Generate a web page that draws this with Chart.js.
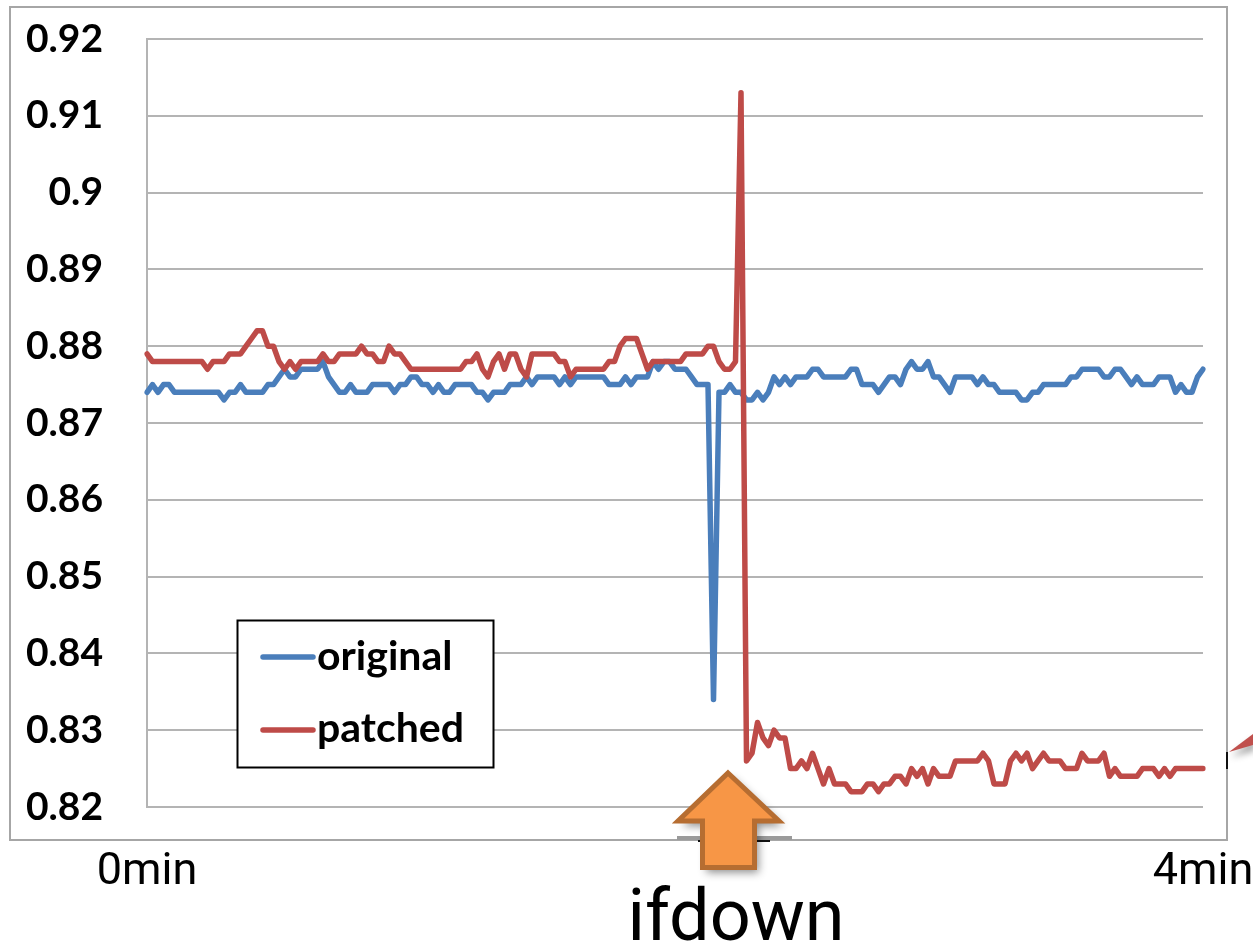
<!DOCTYPE html>
<html>
<head>
<meta charset="utf-8">
<script src="https://cdn.jsdelivr.net/npm/chart.js@4.4.1/dist/chart.umd.min.js"></script>
<style>
  html, body { margin: 0; padding: 0; background: #ffffff; }
  #wrap { width: 1253px; height: 946px; }
</style>
</head>
<body>
<div id="wrap"><canvas id="chart" width="1253" height="946"></canvas></div>
<script>
// Throughput ratio sampled over a 4-minute run, interface taken down mid-run.
const original = [
  0.874,0.875,0.874,0.875,0.875,0.874,0.874,0.874,0.874,0.874,
  0.874,0.874,0.874,0.874,0.873,0.874,0.874,0.875,0.874,0.874,
  0.874,0.874,0.875,0.875,0.876,0.877,0.876,0.876,0.877,0.877,
  0.877,0.877,0.878,0.876,0.875,0.874,0.874,0.875,0.874,0.874,
  0.874,0.875,0.875,0.875,0.875,0.874,0.875,0.875,0.876,0.876,
  0.875,0.875,0.874,0.875,0.874,0.874,0.875,0.875,0.875,0.875,
  0.874,0.874,0.873,0.874,0.874,0.874,0.875,0.875,0.875,0.876,
  0.875,0.876,0.876,0.876,0.876,0.875,0.876,0.875,0.876,0.876,
  0.876,0.876,0.876,0.876,0.875,0.875,0.875,0.876,0.875,0.876,
  0.876,0.876,0.878,0.877,0.878,0.878,0.877,0.877,0.877,0.876,
  0.875,0.875,0.875,0.834,0.874,0.874,0.875,0.874,0.874,0.873,
  0.873,0.874,0.873,0.874,0.876,0.875,0.876,0.875,0.876,0.876,
  0.876,0.877,0.877,0.876,0.876,0.876,0.876,0.876,0.877,0.877,
  0.875,0.875,0.875,0.874,0.875,0.876,0.876,0.875,0.877,0.878,
  0.877,0.877,0.878,0.876,0.876,0.875,0.874,0.876,0.876,0.876,
  0.876,0.875,0.876,0.875,0.875,0.874,0.874,0.874,0.874,0.873,
  0.873,0.874,0.874,0.875,0.875,0.875,0.875,0.875,0.876,0.876,
  0.877,0.877,0.877,0.877,0.876,0.876,0.877,0.877,0.876,0.875,
  0.876,0.875,0.875,0.875,0.876,0.876,0.876,0.874,0.875,0.874,
  0.874,0.876,0.877
];

const patched = [
  0.879,0.878,0.878,0.878,0.878,0.878,0.878,0.878,0.878,0.878,
  0.878,0.877,0.878,0.878,0.878,0.879,0.879,0.879,0.880,0.881,
  0.882,0.882,0.880,0.880,0.878,0.877,0.878,0.877,0.878,0.878,
  0.878,0.878,0.879,0.878,0.878,0.879,0.879,0.879,0.879,0.880,
  0.879,0.879,0.878,0.878,0.880,0.879,0.879,0.878,0.877,0.877,
  0.877,0.877,0.877,0.877,0.877,0.877,0.877,0.877,0.878,0.878,
  0.879,0.877,0.876,0.878,0.879,0.877,0.879,0.879,0.877,0.876,
  0.879,0.879,0.879,0.879,0.879,0.878,0.878,0.876,0.877,0.877,
  0.877,0.877,0.877,0.877,0.878,0.878,0.880,0.881,0.881,0.881,
  0.879,0.877,0.878,0.878,0.878,0.878,0.878,0.878,0.879,0.879,
  0.879,0.879,0.880,0.880,0.878,0.877,0.877,0.878,0.913,0.826,
  0.827,0.831,0.829,0.828,0.830,0.829,0.829,0.825,0.825,0.826,
  0.825,0.827,0.825,0.823,0.825,0.823,0.823,0.823,0.822,0.822,
  0.822,0.823,0.823,0.822,0.823,0.823,0.824,0.824,0.823,0.825,
  0.824,0.825,0.823,0.825,0.824,0.824,0.824,0.826,0.826,0.826,
  0.826,0.826,0.827,0.826,0.823,0.823,0.823,0.826,0.827,0.826,
  0.827,0.825,0.826,0.827,0.826,0.826,0.826,0.825,0.825,0.825,
  0.827,0.826,0.826,0.826,0.827,0.824,0.825,0.824,0.824,0.824,
  0.824,0.825,0.825,0.825,0.824,0.825,0.824,0.825,0.825,0.825,
  0.825,0.825,0.825
];

// Sample times in seconds (evenly spaced over 4 minutes).
const sampleTimes = original.map((_, i) => +(i * 240 / (original.length - 1)).toFixed(2));
const timeTickLabels = ['0min', '4min'];
const seriesNames = ['original', 'patched'];
const seriesColors = ['#4a7ebb', '#be4b48'];
const eventLabel = 'ifdown';

const GRID = '#b4b4b4';

// White page, outer chart frame.
const framePlugin = {
  id: 'frame',
  beforeDraw(chart) {
    const ctx = chart.ctx;
    ctx.save();
    ctx.fillStyle = '#ffffff';
    ctx.fillRect(0, 0, chart.width, chart.height);
    ctx.strokeStyle = '#a6a6a6';
    ctx.lineWidth = 2;
    ctx.strokeRect(10, 7, 1217, 833);
    ctx.restore();
  }
};

// Boxed legend inside the plot area.
const boxLegendPlugin = {
  id: 'boxLegend',
  afterDatasetsDraw(chart) {
    const ctx = chart.ctx;
    ctx.save();
    ctx.fillStyle = '#ffffff';
    ctx.fillRect(237, 620, 256, 147);
    ctx.strokeStyle = '#000000';
    ctx.lineWidth = 2;
    ctx.strokeRect(237.5, 620.5, 256, 147);
    const rows = [[657, 670], [730, 742]];
    chart.data.datasets.forEach((ds, k) => {
      const [ly, ty] = rows[k];
      ctx.strokeStyle = ds.borderColor;
      ctx.lineWidth = 5.5;
      ctx.lineCap = 'round';
      ctx.beginPath();
      ctx.moveTo(263, ly);
      ctx.lineTo(313, ly);
      ctx.stroke();
      ctx.fillStyle = '#000000';
      ctx.font = 'bold 41px Lato';
      ctx.textAlign = 'left';
      ctx.textBaseline = 'alphabetic';
      ctx.fillText(ds.label, 317, ty);
    });
    ctx.restore();
  }
};

// Event marker: up arrow under the axis with its caption, plus callout edge at right.
const eventPlugin = {
  id: 'eventMarker',
  afterDraw(chart) {
    const ctx = chart.ctx;
    ctx.save();
    // little marks on the frame edge below the arrow
    ctx.fillStyle = '#9a9a9a';
    ctx.fillRect(677, 836, 115, 4);
    ctx.fillStyle = '#111111';
    ctx.fillRect(698, 840, 72, 2);

    // caption
    ctx.fillStyle = '#000000';
    ctx.font = '72px Roboto';
    ctx.textAlign = 'center';
    ctx.textBaseline = 'alphabetic';
    ctx.fillText(eventLabel, 736, 940);

    // arrow with soft shadow
    ctx.shadowColor = 'rgba(0,0,0,0.45)';
    ctx.shadowBlur = 9;
    ctx.shadowOffsetX = 4;
    ctx.shadowOffsetY = 5;
    ctx.beginPath();
    ctx.moveTo(728, 773);
    ctx.lineTo(779, 821);
    ctx.lineTo(754.5, 821);
    ctx.lineTo(754.5, 867.5);
    ctx.lineTo(702.5, 867.5);
    ctx.lineTo(702.5, 821);
    ctx.lineTo(678, 821);
    ctx.closePath();
    ctx.fillStyle = '#f79646';
    ctx.fill();
    ctx.shadowColor = 'transparent';
    ctx.lineWidth = 5;
    ctx.lineJoin = 'miter';
    ctx.strokeStyle = '#b66d31';
    ctx.stroke();

    // edge of a callout reaching in from the right
    ctx.shadowColor = 'rgba(0,0,0,0.4)';
    ctx.shadowBlur = 7;
    ctx.shadowOffsetX = 2;
    ctx.shadowOffsetY = 5;
    ctx.beginPath();
    ctx.moveTo(1229, 752);
    ctx.lineTo(1253, 734);
    ctx.lineTo(1253, 745);
    ctx.closePath();
    ctx.fillStyle = '#c0504d';
    ctx.fill();
    ctx.shadowColor = 'transparent';
    ctx.fillStyle = '#111111';
    ctx.fillRect(1226, 752, 2, 17);
    ctx.restore();
  }
};

new Chart(document.getElementById('chart'), {
  type: 'line',
  data: {
    labels: sampleTimes,
    datasets: [
      {
        label: seriesNames[0],
        data: original,
        borderColor: seriesColors[0],
        backgroundColor: seriesColors[0],
        borderWidth: 5.5,
        pointRadius: 0,
        tension: 0,
        borderJoinStyle: 'round',
        borderCapStyle: 'round',
        order: 1
      },
      {
        label: seriesNames[1],
        data: patched,
        borderColor: seriesColors[1],
        backgroundColor: seriesColors[1],
        borderWidth: 5.5,
        pointRadius: 0,
        tension: 0,
        borderJoinStyle: 'round',
        borderCapStyle: 'round',
        order: 0
      }
    ]
  },
  options: {
    responsive: false,
    animation: false,
    devicePixelRatio: 1,
    layout: { padding: { left: 0, top: 39, right: 50, bottom: 0 } },
    plugins: {
      legend: { display: false },
      tooltip: { enabled: false }
    },
    scales: {
      x: {
        type: 'category',
        offset: false,
        grid: { display: false, drawTicks: false },
        border: { display: false },
        ticks: {
          autoSkip: false,
          maxRotation: 0,
          minRotation: 0,
          padding: 39,
          color: '#000000',
          font: { family: 'Roboto', size: 45 },
          callback: function (value, index, ticks) {
            if (index === 0) return timeTickLabels[0];
            if (index === ticks.length - 1) return timeTickLabels[1];
            return '';
          }
        },
        afterFit(scale) {
          scale.height = 139;
          scale.paddingLeft = 0;
          scale.paddingRight = 0;
        }
      },
      y: {
        min: 0.82,
        max: 0.92,
        grid: { color: GRID, lineWidth: 2, drawTicks: false },
        border: { display: true, color: GRID, width: 2 },
        ticks: {
          stepSize: 0.01,
          padding: 44,
          color: '#000000',
          font: { family: 'Lato', size: 39, weight: 'bold' },
          callback: (v) => String(parseFloat(Number(v).toFixed(2)))
        },
        afterFit(scale) {
          scale.width = 147;
          scale.paddingTop = 0;
          scale.paddingBottom = 0;
        }
      }
    }
  },
  plugins: [framePlugin, boxLegendPlugin, eventPlugin]
});
</script>
</body>
</html>
